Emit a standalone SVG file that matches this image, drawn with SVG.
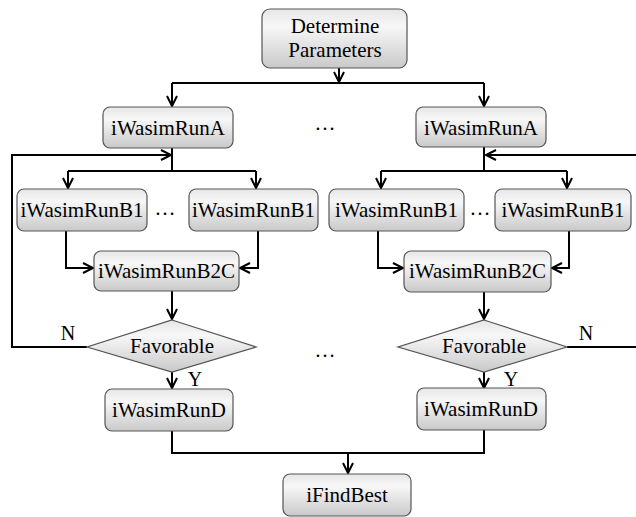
<svg xmlns="http://www.w3.org/2000/svg" width="636" height="517" viewBox="0 0 636 517" font-family="Liberation Serif, Times New Roman, serif">
<defs>
<linearGradient id="g" x1="0" y1="0" x2="0" y2="1">
<stop offset="0" stop-color="#e6e6e6"/>
<stop offset="0.3" stop-color="#f7f7f7"/>
<stop offset="1" stop-color="#c9c9c9"/>
</linearGradient>
<marker id="ar" markerUnits="userSpaceOnUse" markerWidth="14" markerHeight="14" refX="11" refY="6" orient="auto">
<path d="M1,1 L11,6 L1,11" fill="none" stroke="#000" stroke-width="2"/>
</marker>
<style>
.box{fill:url(#g);stroke:#555;stroke-width:1.2}
.t{font-size:21px;fill:#000;text-anchor:middle}
.l{font-size:20px;fill:#000;text-anchor:middle}
.c{fill:none;stroke:#000;stroke-width:2}
.a{marker-end:url(#ar)}
</style>
</defs>
<rect width="636" height="517" fill="#fff"/>
<g id="connectors">
<path class="c a" d="M339,68 V82"/>
<path class="c" d="M172,83 H484"/>
<path class="c a" d="M172,83 V106"/>
<path class="c a" d="M484,83 V106"/>
<path class="c" d="M172,148 V171 M68,171 H256"/>
<path class="c a" d="M68,171 V188"/>
<path class="c a" d="M256,171 V188"/>
<path class="c a" d="M87,347 H12 V155 H171"/>
<path class="c a" d="M66,231 V268 H93"/>
<path class="c a" d="M258,231 V268 H240"/>
<path class="c a" d="M172,291 V319"/>
<path class="c a" d="M172,372 V388"/>
<path class="c" d="M484,147 V171 M381,171 H567"/>
<path class="c a" d="M381,171 V188"/>
<path class="c a" d="M567,171 V188"/>
<path class="c" d="M567,347 H636"/>
<path class="c a" d="M636,155 H486"/>
<path class="c a" d="M378,231 V268 H403"/>
<path class="c a" d="M569,231 V268 H552"/>
<path class="c a" d="M484,292 V319"/>
<path class="c a" d="M484,372 V388"/>
<path class="c" d="M172,431 V453 H484 V430"/>
<path class="c a" d="M348,453 V473"/>
</g>
<g id="determine"><rect class="box" x="262" y="9" width="145" height="59" rx="8"/><text class="t" x="335" y="33">Determine</text><text class="t" x="335" y="57">Parameters</text></g>
<g id="runA1"><rect class="box" x="103" y="107" width="130" height="41" rx="7"/><text class="t" x="168" y="135">iWasimRunA</text></g>
<g id="runA2"><rect class="box" x="416" y="107" width="130" height="40" rx="7"/><text class="t" x="481" y="135">iWasimRunA</text></g>
<g id="dots1"><text class="t" x="325" y="130">…</text></g>
<g id="runB1a"><rect class="box" x="17" y="189" width="130" height="42" rx="7"/><text class="t" x="82" y="217">iWasimRunB1</text></g>
<g id="runB1b"><rect class="box" x="189" y="189" width="129" height="42" rx="7"/><text class="t" x="253.5" y="217">iWasimRunB1</text></g>
<g id="dots2"><text class="t" x="165" y="215">…</text></g>
<g id="runB1c"><rect class="box" x="329" y="189" width="135" height="42" rx="7"/><text class="t" x="396.5" y="217">iWasimRunB1</text></g>
<g id="runB1d"><rect class="box" x="495" y="189" width="136" height="42" rx="7"/><text class="t" x="563" y="217">iWasimRunB1</text></g>
<g id="dots3"><text class="t" x="480" y="215">…</text></g>
<g id="runB2C1"><rect class="box" x="94" y="251" width="145" height="40" rx="7"/><text class="t" x="166.5" y="278">iWasimRunB2C</text></g>
<g id="runB2C2"><rect class="box" x="404" y="251" width="147" height="41" rx="7"/><text class="t" x="477.5" y="278">iWasimRunB2C</text></g>
<g id="fav1"><polygon class="box" points="172,320 256,347 172,372 87,347"/><text class="t" x="172" y="353">Favorable</text></g>
<g id="fav2"><polygon class="box" points="484,320 567,347 484,372 398,347"/><text class="t" x="484" y="353">Favorable</text></g>
<g id="dots4"><text class="t" x="325" y="357">…</text></g>
<g id="labels"><text class="l" x="68" y="340">N</text><text class="l" x="586" y="340">N</text><text class="l" x="195" y="386">Y</text><text class="l" x="511" y="386">Y</text></g>
<g id="runD1"><rect class="box" x="105" y="389" width="128" height="42" rx="7"/><text class="t" x="169" y="417">iWasimRunD</text></g>
<g id="runD2"><rect class="box" x="417" y="388" width="129" height="42" rx="7"/><text class="t" x="481" y="416">iWasimRunD</text></g>
<g id="findBest"><rect class="box" x="283" y="474" width="128" height="42" rx="7"/><text class="t" x="347" y="502">iFindBest</text></g>
</svg>
